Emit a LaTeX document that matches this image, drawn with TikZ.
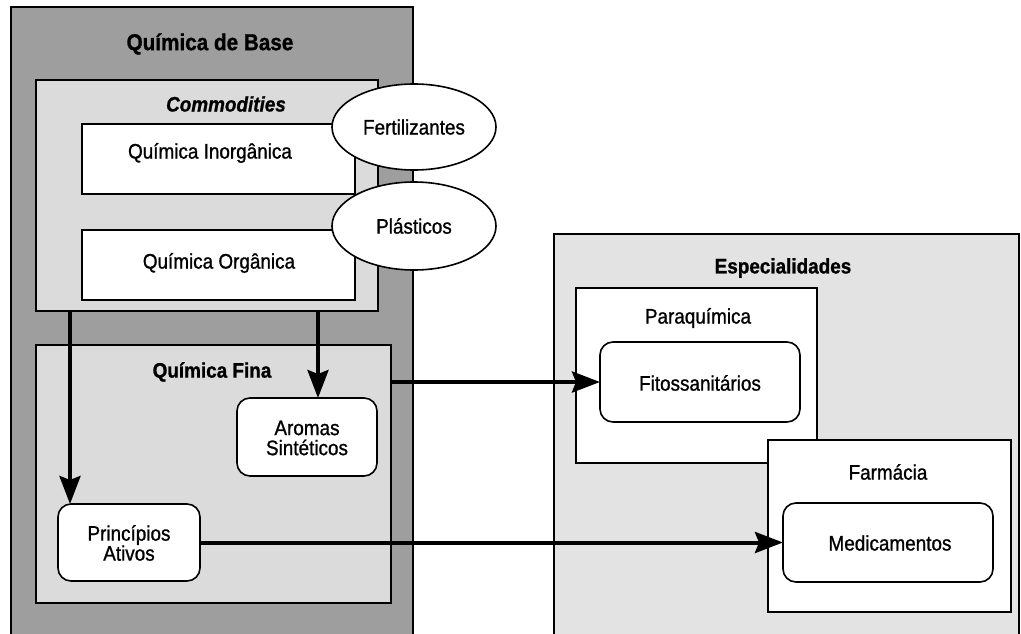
\documentclass[tikz,border=0pt]{standalone}
\usepackage{fontspec}
\setmainfont{Liberation Sans}[FakeStretch=0.9, FakeBold=1.0]
\usetikzlibrary{shapes.geometric,arrows.meta}
\newcommand\mytxt{\fontsize{21}{23}\selectfont}
\newcommand\myhd{\fontsize{21}{23}\selectfont\bfseries}
\definecolor{darkfill}{gray}{0.62}
\definecolor{lightfill}{gray}{0.86}
\definecolor{palefill}{gray}{0.89}
\begin{document}
\begin{tikzpicture}[x=1pt,y=-1pt,
  cont/.style={rectangle, draw=black, line width=1.8pt, inner sep=0pt, outer sep=0pt},
  plain/.style={rectangle, draw=black, line width=1.8pt, fill=white, inner sep=0pt, outer sep=0pt},
  rbox/.style={rectangle, draw=black, line width=1.6pt, fill=white, rounded corners=13pt, inner sep=0pt, outer sep=0pt},
  oval/.style={ellipse, draw=black, line width=1.6pt, fill=white, inner sep=0pt, outer sep=0pt, font=\mytxt},
  head/.style={font=\myhd},
  lbl/.style={font=\mytxt, align=center},
  arr/.style={line width=4pt, -{Stealth[length=28pt,width=21pt,inset=4pt]}}
]
\useasboundingbox (0,0) rectangle (1021,634);
\fill[white] (0,0) rectangle (1021,634);

% Quimica de Base
\node[cont, fill=darkfill, minimum width=402pt, minimum height=640pt] (base) at (212,327) {};
\node[head, font=\fontsize{23}{25}\selectfont\bfseries] (baselbl) at (210,44) {Química de Base};

% Commodities
\node[cont, fill=lightfill, minimum width=342pt, minimum height=231pt] (comm) at (207,195.5) {};
\node[head, font=\myhd\itshape] (commlbl) at (226,104) {Commodities};
\node[plain, minimum width=273pt, minimum height=70pt] (inorg) at (218.5,159) {};
\node[lbl] (inorglbl) at (210,153) {Química Inorgânica};
\node[plain, minimum width=273pt, minimum height=70pt] (org) at (218.5,265) {};
\node[lbl] (orglbl) at (219,263) {Química Orgânica};

\node[oval, minimum width=164pt, minimum height=86pt] (fert) at (414,127) {Fertilizantes};
\node[oval, minimum width=164pt, minimum height=88pt] (plast) at (414,226) {Plásticos};

% Quimica Fina
\node[cont, fill=lightfill, minimum width=355pt, minimum height=258pt] (fina) at (213.5,474) {};
\node[head] (finalbl) at (212,372) {Química Fina};
\node[rbox, minimum width=140pt, minimum height=78pt] (arom) at (307,437) {};
\node[lbl] (aromlbl) at (307,438) {Aromas\\[-3pt]Sintéticos};
\node[rbox, minimum width=142pt, minimum height=77pt] (pa) at (129,542.5) {};
\node[lbl] (palbl) at (129,543) {Princípios\\[-3pt]Ativos};

% Especialidades
\node[cont, line width=1.3pt, fill=palefill, minimum width=465pt, minimum height=406pt] (esp) at (786.5,437) {};
\node[head] (esplbl) at (783,268) {Especialidades};
\node[plain, minimum width=241pt, minimum height=175pt] (para) at (696.5,375.5) {};
\node[lbl] (paralbl) at (698,318) {Paraquímica};
\node[rbox, minimum width=200pt, minimum height=80pt] (fito) at (700,382) {};
\node[lbl] (fitolbl) at (700,383) {Fitossanitários};
\node[plain, minimum width=243pt, minimum height=172pt] (farm) at (889.5,526) {};
\node[lbl] (farmlbl) at (888,472) {Farmácia};
\node[rbox, minimum width=210pt, minimum height=79pt] (med) at (888,542.5) {};
\node[lbl] (medlbl) at (890,543) {Medicamentos};

% arrows
\draw[arr] ([xshift=12pt]pa.north west |- comm.south) -- ([xshift=12pt]pa.north west);
\draw[arr] ([xshift=11pt]arom.north |- comm.south) -- ([xshift=11pt]arom.north);
\draw[arr] (fina.east |- fito.west) -- (fito.west);
\draw[arr] (pa.east) -- (med.west);
\end{tikzpicture}
\end{document}
